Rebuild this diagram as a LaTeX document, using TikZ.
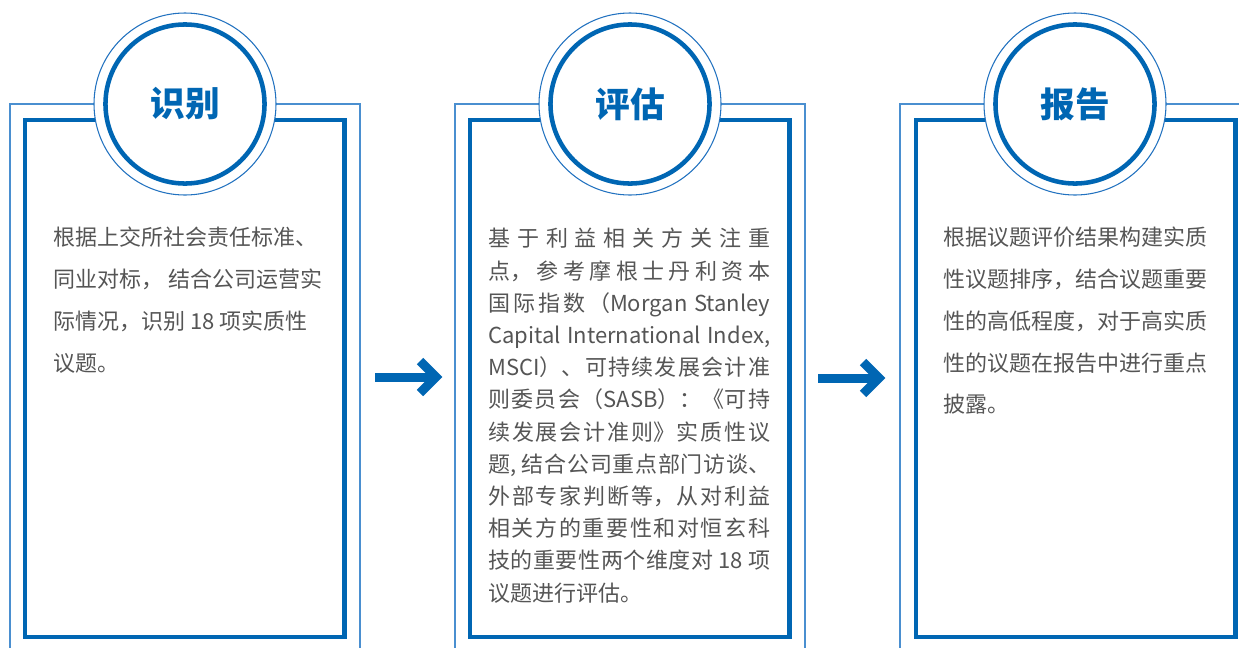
\documentclass[tikz,border=0pt]{standalone}
\usepackage{fontspec}
\newfontfamily\cjk{Noto Sans CJK SC}
\XeTeXlinebreaklocale "zh"
\XeTeXlinebreakskip=0pt plus 3pt minus 0.3pt
\definecolor{deepblue}{HTML}{0066B3}
\definecolor{lightblue}{HTML}{4A8FD0}
\definecolor{ringblue}{HTML}{2272C0}
\definecolor{bodygray}{HTML}{555555}
\begin{document}
\begin{tikzpicture}[x=0.75pt,y=-0.75pt,
  outerframe/.style={draw=lightblue,line width=1.1pt},
  innerframe/.style={draw=deepblue,line width=3.4pt},
  ring/.style={circle,draw=ringblue,line width=0.8pt,fill=white,minimum size=136.5pt,inner sep=0pt},
  title/.style={circle,draw=deepblue,line width=3.4pt,fill=white,minimum size=119.3pt,inner sep=0pt,
    text=deepblue,font=\cjk\bfseries\fontsize{26pt}{30pt}\selectfont},
  bodytext/.style={anchor=north west,inner sep=0pt,text=bodygray,align=left,
    font=\cjk\fontsize{16.5pt}{31.3pt}\selectfont},
  justtext/.style={anchor=north west,inner sep=0pt,text=bodygray,text width=211.5pt,align=justify,
    font=\cjk\fontsize{16.5pt}{24.15pt}\selectfont},
  flow/.style={draw=deepblue,line width=6.75pt},
  chevron/.style={draw=deepblue,line width=6.75pt,miter limit=10,line join=miter}]
\useasboundingbox (0,0) rectangle (1239,647);
\clip (0,0) rectangle (1239,647);
% panel frames
\foreach \ox/\ix in {10/25,455/470,900/916}{
  \draw[outerframe] (\ox,700) -- (\ox,104) -- (\ox+350,104) -- (\ox+350,700);
  \draw[innerframe] (\ix,120) rectangle (\ix+319.5,637);
}
% circles
\node[ring] (r1) at (185,104) {};
\node[title] (t1) at (185,104) {识别};
\node[ring] (r2) at (630,104) {};
\node[title] (t2) at (630,104) {评估};
\node[ring] (r3) at (1075,104) {};
\node[title] (t3) at (1075,104) {报告};
% texts
\node[bodytext] (b1) at (53,227) {根据上交所社会责任标准、\\同业对标， 结合公司运营实\\际情况，识别 18 项实质性\\议题。};
\node[justtext] (b2) at (488,228) {基于利益相关方关注重\linebreak 点，参考摩根士丹利资本\linebreak 国际指数（Morgan Stanley\linebreak Capital International Index,\linebreak MSCI）、可持续发展会计准\linebreak 则委员会（SASB）：《可持\linebreak 续发展会计准则》实质性议\linebreak 题, 结合公司重点部门访谈、\linebreak 外部专家判断等，从对利益\linebreak 相关方的重要性和对恒玄科\linebreak 技的重要性两个维度对 18 项\linebreak 议题进行评估。};
\node[bodytext] (b3) at (943,227) {根据议题评价结果构建实质\\性议题排序，结合议题重要\\性的高低程度，对于高实质\\性的议题在报告中进行重点\\披露。};
% arrows
\coordinate (a1s) at (375,377);
\coordinate (a1e) at (435,377);
\coordinate (a2s) at (818,378);
\coordinate (a2e) at (878,378);
\draw[flow] (a1s) -- (a1e);
\draw[chevron] ([shift={(-15,-16)}]a1e) -- ([shift={(1,0)}]a1e) -- ([shift={(-15,16)}]a1e);
\draw[flow] (a2s) -- (a2e);
\draw[chevron] ([shift={(-15,-16)}]a2e) -- ([shift={(1,0)}]a2e) -- ([shift={(-15,16)}]a2e);
\end{tikzpicture}
\end{document}
